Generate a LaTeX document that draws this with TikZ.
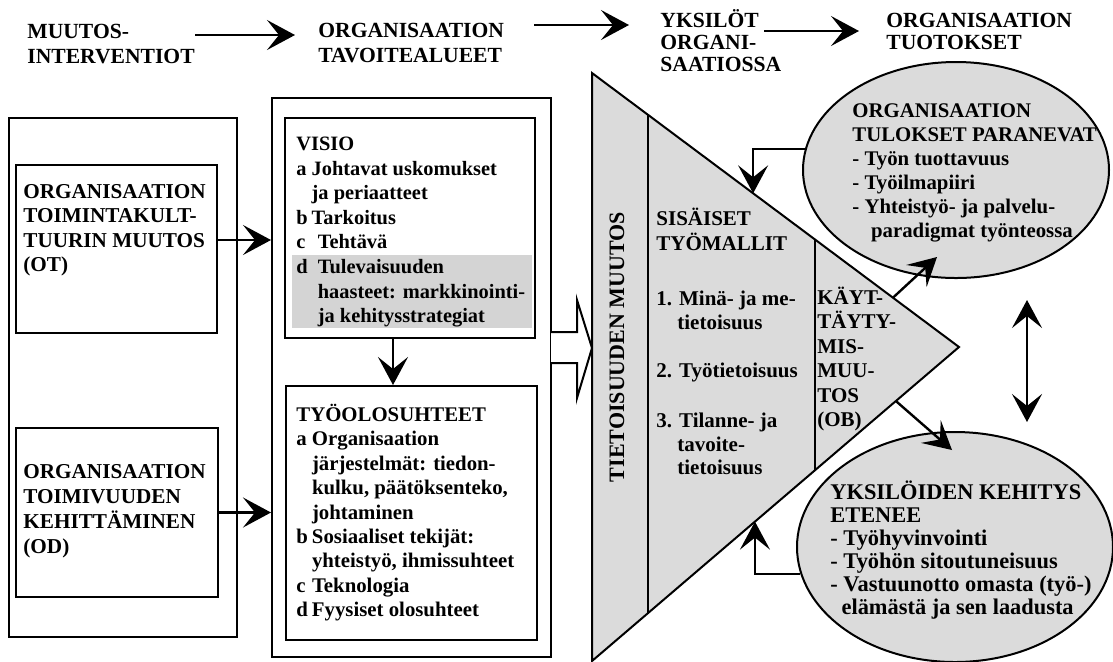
\documentclass[tikz,border=0pt]{standalone}
\usepackage{fontspec}
\setmainfont{Liberation Serif}
\usetikzlibrary{arrows.meta,shapes.geometric}

\newcommand{\bfsz}[2]{\bfseries\fontsize{#1}{#2}\selectfont}
\newcommand{\fst}{\rule{0pt}{12pt}}

\tikzset{
  box/.style={draw, line width=1pt, inner sep=0pt},
  txt/.style={font=\bfsz{10.2}{12.3}, align=left, inner sep=0pt, anchor=north west, yshift=12pt},
  head/.style={txt, font=\bfsz{10.8}{12.5}},
  blob/.style={draw, ellipse, line width=1pt, fill=black!14, inner sep=0pt},
  arr/.style={line width=1.2pt, -{Stealth[length=14pt,width=15pt,inset=6pt]}},
  darr/.style={line width=1.2pt, {Stealth[length=14pt,width=15pt,inset=6pt]}-{Stealth[length=14pt,width=15pt,inset=6pt]}},
}

\begin{document}
\begin{tikzpicture}[x=0.5pt,y=-0.5pt]
  \useasboundingbox (0,0) rectangle (1113,661);
  \fill[white] (0,0) rectangle (1113,661);

  % otsikot
  \node[head] (h1) at (27,38) {\fst MUUTOS-\\INTERVENTIOT};
  \node[head] (h2) at (318,37) {\fst ORGANISAATION\\TAVOITEALUEET};
  \node[head, font=\bfsz{10.8}{11}] (h3) at (660,27) {\fst YKSILÖT\\ORGANI-\\SAATIOSSA};
  \node[head, font=\bfsz{10.8}{11}] (h4) at (886,27) {\fst ORGANISAATION\\TUOTOKSET};
  \coordinate (a1s) at (195,35);  \coordinate (a1e) at (295,35);
  \coordinate (a2s) at (534,25);  \coordinate (a2e) at (629,25);
  \coordinate (a3s) at (764,31);  \coordinate (a3e) at (859,31);
  \draw[arr] (a1s) -- (a1e);
  \draw[arr] (a2s) -- (a2e);
  \draw[arr] (a3s) -- (a3e);

  % muutosinterventiot
  \node[box, minimum width=114pt, minimum height=259.5pt] (left) at (123,377.5) {};
  \node[box, minimum width=100.5pt, minimum height=84pt] (ot) at (116.5,249) {};
  \node[box, minimum width=101pt, minimum height=84.5pt] (od) at (117,512.5) {};
  \node[txt, font=\bfsz{10.6}{12.25}] (ottxt) at (23,198)
    {\fst ORGANISAATION\\TOIMINTAKULT-\\TUURIN MUUTOS\\(OT)};
  \node[txt, font=\bfsz{10.6}{12.5}] (odtxt) at (23,478)
    {\fst ORGANISAATION\\TOIMIVUUDEN\\KEHITTÄMINEN\\(OD)};

  % tavoitealueet
  \node[box, minimum width=139.5pt, minimum height=279.5pt] (mid) at (411.5,377.5) {};
  \node[box, minimum width=125pt, minimum height=110pt] (visio) at (410,228) {};
  \node[box, minimum width=125.5pt, minimum height=127pt] (tyo) at (411.5,513) {};
  \fill[black!17] (292,255) rectangle (532,328);
  \node[txt] (visiotxt) at (296,150)
    {\fst VISIO\\
     \makebox[0.75em][l]{a}Johtavat uskomukset\\
     \hspace*{0.75em}ja periaatteet\\
     \makebox[0.75em][l]{b}Tarkoitus\\
     \makebox[1.05em][l]{c}Tehtävä\\
     \makebox[1.05em][l]{d}Tulevaisuuden\\
     \hspace*{1.05em}haasteet: markkinointi-\\
     \hspace*{1.05em}ja kehitysstrategiat};
  \node[txt, font=\bfsz{10.4}{12.2}] (tyotxt) at (296,421)
    {\fst TYÖOLOSUHTEET\\
     \makebox[0.75em][l]{a}Organisaation\\
     \hspace*{0.75em}järjestelmät: tiedon-\\
     \hspace*{0.75em}kulku, päätöksenteko,\\
     \hspace*{0.75em}johtaminen\\
     \makebox[0.75em][l]{b}Sosiaaliset tekijät:\\
     \hspace*{0.75em}yhteistyö, ihmissuhteet\\
     \makebox[0.75em][l]{c}Teknologia\\
     \makebox[0.75em][l]{d}Fyysiset olosuhteet};

  \coordinate (otlvl) at (0,240);
  \coordinate (vlvl) at (393,0);
  \draw[arr] (ot.east |- otlvl) -- (mid.west |- otlvl);
  \draw[arr] (od.east) -- (od.east -| mid.west);
  \draw[arr] (visio.south -| vlvl) -- (tyo.north -| vlvl);
  \draw[line width=1pt, fill=white] (551,332) -- (577,332) -- (577,300) -- (592,348)
    -- (577,398) -- (577,363) -- (551,363);

  % yksilot organisaatiossa
  \draw[line width=1pt, fill=black!14] (592,73) coordinate (ta) -- (959,347) coordinate (tb)
    -- (592,661) coordinate (tc) -- cycle;
  \path (ta) -- (tb) coordinate[pos=0.1526] (c1t) coordinate[pos=0.6076] (c2t)
    coordinate[pos=0.439] (fb1) coordinate[pos=0.82] (kup);
  \path (tc) -- (tb) coordinate[pos=0.1526] (c1b) coordinate[pos=0.6076] (c2b)
    coordinate[pos=0.444] (fb2) coordinate[pos=0.828] (kdn);
  \draw[line width=1pt] (c1t) -- (c1b);
  \draw[line width=1pt] (c2t) -- (c2b);
  \node[font=\bfsz{11}{12}, inner sep=0pt, rotate=90] (tmuut) at (617,347) {TIETOISUUDEN MUUTOS};
  \node[txt, font=\bfsz{10.5}{12.5}] (sis) at (656,225) {\fst SISÄISET\\TYÖMALLIT};
  \node[txt, font=\bfsz{10.5}{12}] (m1) at (656,305) {\fst 1. Minä- ja me-\\\hspace*{1em}tietoisuus};
  \node[txt, font=\bfsz{10.5}{12}] (m2) at (656,377) {\fst 2. Työtietoisuus};
  \node[txt, font=\bfsz{10.5}{11.8}] (m3) at (656,427) {\fst 3. Tilanne- ja\\\hspace*{1em}tavoite-\\\hspace*{1em}tietoisuus};
  \node[txt, font=\bfsz{10.5}{12.2}] (kay) at (817,304) {\fst KÄYT-\\TÄYTY-\\MIS-\\MUU-\\TOS\\(OB)};

  % tuotokset
  \node[blob, minimum width=153pt, minimum height=108pt] (res) at (956,170) {};
  \node[blob, minimum width=158pt, minimum height=115pt] (dev) at (955,547) {};
  \node[txt, font=\bfsz{10.4}{12}] (restxt) at (852,117)
    {\fst ORGANISAATION\\TULOKSET PARANEVAT\\- Työn tuottavuus\\- Työilmapiiri\\
     - Yhteistyö- ja palvelu-\\\hspace*{0.9em}paradigmat työnteossa};
  \node[txt, font=\bfsz{11.2}{11.5}] (devtxt) at (830,499)
    {\fst YKSILÖIDEN KEHITYS\\ETENEE\\- Työhyvinvointi\\- Työhön sitoutuneisuus\\
     - Vastuunotto omasta (työ-)\\\hspace*{0.5em}elämästä ja sen laadusta};

  \coordinate (resin) at (937,257);
  \coordinate (devin) at (952,450);
  \coordinate (dtop) at (1027,300);
  \coordinate (dbot) at (1027,422);
  \draw[arr] (kup) -- (resin);
  \draw[arr] (kdn) -- (devin);
  \draw[arr] (res.172) -| (fb1);
  \draw[arr] (dev.190) -| (fb2);
  \draw[darr] (dtop) -- (dbot);
\end{tikzpicture}
\end{document}
